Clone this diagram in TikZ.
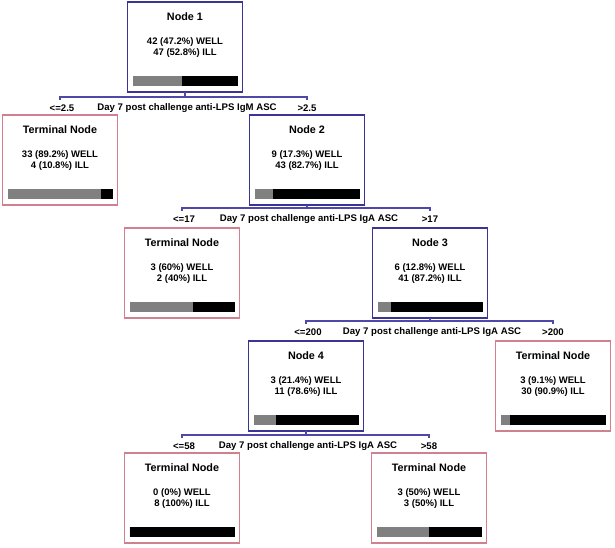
\documentclass[tikz,border=0pt]{standalone}
\usepackage{fontspec}
\setmainfont{Liberation Sans}
\usetikzlibrary{calc}
\definecolor{nodeblue}{RGB}{58,52,148}
\definecolor{lineblue}{RGB}{78,72,168}
\definecolor{termpink}{RGB}{208,128,142}
\definecolor{wellgray}{RGB}{128,128,128}
\tikzset{
  nodebox/.style={draw=nodeblue, line width=1.8pt, fill=white, inner sep=0pt, outer sep=0pt,
    minimum width=115pt, minimum height=90pt, anchor=north},
  termbox/.style={draw=termpink, line width=1.3pt, fill=white, inner sep=0pt, outer sep=0pt,
    minimum width=115pt, minimum height=90pt, anchor=north},
  titletxt/.style={font=\fontsize{10.8}{12}\selectfont\bfseries, inner sep=0pt},
  counttxt/.style={font=\fontsize{9.5}{11}\selectfont\bfseries, inner sep=0pt},
  splittxt/.style={font=\fontsize{9.6}{11}\selectfont\bfseries, inner sep=0pt},
  conn/.style={draw=lineblue, line width=1.3pt},
}
% #1 name, #2 cx, #3 top, #4 style, #5 title, #6 line1, #7 line2, #8 well fraction
\newcommand\tbox[8]{%
  \node[#4] (#1) at (#2,#3) {};
  \node[titletxt] (#1-t) at ($(#1.north)+(0,15)$) {#5};
  \node[counttxt] (#1-a) at ($(#1.north)+(0,40)$) {#6};
  \node[counttxt] (#1-b) at ($(#1.north)+(0,51)$) {#7};
  \pgfmathsetmacro\wellw{105*#8}
  \fill[wellgray] ($(#1.north west)+(5,74)$) rectangle ($(#1.north west)+(5+\wellw,84)$);
  \fill[black] ($(#1.north west)+(5+\wellw,74)$) rectangle ($(#1.north west)+(110,84)$);
}
% #1 parent, #2 left child, #3 right child, #4 y, #5 left label, #6 right label, #7 text
\newcommand\splitline[7]{%
  \coordinate (#1-s) at (#1.south |- 0,#4);
  \coordinate (#1-L) at (#2.north |- 0,#4);
  \coordinate (#1-R) at (#3.north |- 0,#4);
  \draw[conn] (#1.south) -- (#1-s);
  \draw[conn] ($(#1-L)+(0,3)$) -- (#1-L) -- (#1-R) -- ($(#1-R)+(0,3)$);
  \node[splittxt] (#1-ll) at ($(#1-L)+(2,11)$) {#5};
  \node[splittxt] (#1-rl) at ($(#1-R)+(0,11)$) {#6};
  \node[splittxt] (#1-ml) at ($(#1-s)+(2,11)$) {#7};
}
\begin{document}
\begin{tikzpicture}[x=1pt,y=-1pt]
\useasboundingbox[fill=white] (0,0) rectangle (615,547);
\tbox{n1}{185}{2}{nodebox}{Node 1}{42 (47.2\%) WELL}{47 (52.8\%) ILL}{0.472}
\tbox{t1}{60}{115}{termbox}{Terminal Node}{33 (89.2\%) WELL}{4 (10.8\%) ILL}{0.892}
\tbox{n2}{307}{115}{nodebox}{Node 2}{9 (17.3\%) WELL}{43 (82.7\%) ILL}{0.173}
\tbox{t2}{182}{228}{termbox}{Terminal Node}{3 (60\%) WELL}{2 (40\%) ILL}{0.60}
\tbox{n3}{430}{228}{nodebox}{Node 3}{6 (12.8\%) WELL}{41 (87.2\%) ILL}{0.128}
\tbox{n4}{306}{341}{nodebox}{Node 4}{3 (21.4\%) WELL}{11 (78.6\%) ILL}{0.214}
\tbox{t3}{553}{341}{termbox}{Terminal Node}{3 (9.1\%) WELL}{30 (90.9\%) ILL}{0.091}
\tbox{t4}{182}{453}{termbox}{Terminal Node}{0 (0\%) WELL}{8 (100\%) ILL}{0}
\tbox{t5}{429}{453}{termbox}{Terminal Node}{3 (50\%) WELL}{3 (50\%) ILL}{0.50}
\splitline{n1}{t1}{n2}{97}{<=2.5}{>2.5}{Day 7 post challenge anti-LPS IgM ASC}
\splitline{n2}{t2}{n3}{208}{<=17}{>17}{Day 7 post challenge anti-LPS IgA ASC}
\splitline{n3}{n4}{t3}{321}{<=200}{>200}{Day 7 post challenge anti-LPS IgA ASC}
\splitline{n4}{t4}{t5}{435}{<=58}{>58}{Day 7 post challenge anti-LPS IgA ASC}
\end{tikzpicture}
\end{document}
